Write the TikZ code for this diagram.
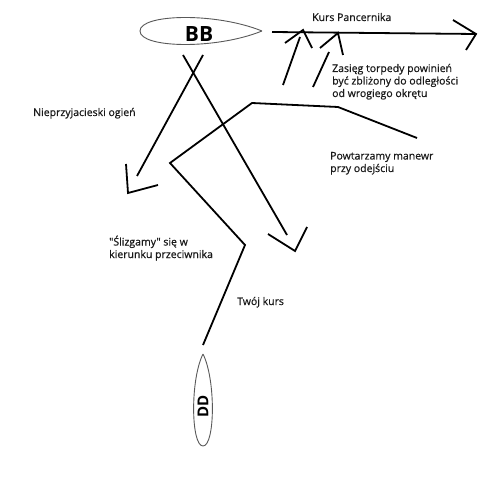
\documentclass[tikz,border=0pt]{standalone}
\usepackage{fontspec}
\setmainfont{Open Sans}
\newfontfamily\lblfont[FakeBold=0.6]{Open Sans}
\begin{document}
\begin{tikzpicture}[x=1bp,y=-1bp,
  stroke/.style={line width=1.8bp,black},
  hull/.style={line width=0.9bp,draw=black!65},
  lbl/.style={anchor=base west,inner sep=0pt,align=left,font=\lblfont\fontsize{10.5bp}{12.5bp}\selectfont,text=black!90}]
\fill[white] (0,0) rectangle (480,480);
\useasboundingbox (0,0) rectangle (480,480);
% ships
\draw[hull] (262,31) .. controls (215,12) and (140,14) .. (140,31) .. controls (140,48) and (215,50) .. (262,31);
\node[font=\fontsize{21bp}{21bp}\selectfont\bfseries,inner sep=0pt] (bb) at (199,34) {BB};
\draw[hull] (203,354) .. controls (190,380) and (191,446) .. (203,446) .. controls (215,446) and (216,380) .. (203,354);
\node[font=\fontsize{15bp}{15bp}\selectfont\bfseries,inner sep=0pt,rotate=90] (dd) at (203,406) {DD};
% coordinates
\coordinate (a1) at (203,55); \coordinate (a2) at (137,176);
\coordinate (f1) at (126,164); \coordinate (f2) at (128,193); \coordinate (f3) at (158,185);
\coordinate (b1) at (183,55); \coordinate (b2) at (287,235);
\coordinate (g1) at (268,234); \coordinate (g2) at (295,251); \coordinate (g3) at (307,227);
\coordinate (k1) at (272,32); \coordinate (k2) at (476,34);
\coordinate (h1) at (453,20); \coordinate (h2) at (466,50);
\coordinate (t1) at (283,85); \coordinate (t2) at (300,37);
\coordinate (u1) at (285,43); \coordinate (u2) at (303,30); \coordinate (u3) at (312,48);
\coordinate (t3) at (313,87); \coordinate (t4) at (329,52);
\coordinate (v1) at (320,48); \coordinate (v2) at (338,33); \coordinate (v3) at (343,55);
\coordinate (c0) at (203,345); \coordinate (c1) at (245,245); \coordinate (c2) at (170,163);
\coordinate (c3) at (252,103); \coordinate (c4) at (338,107); \coordinate (c5) at (417,138);
% strokes
\draw[stroke] (a1) -- (a2);
\draw[stroke] (f1) -- (f2) -- (f3);
\draw[stroke] (b1) -- (b2);
\draw[stroke] (g1) -- (g2) -- (g3);
\draw[stroke] (k1) -- (k2);
\draw[stroke] (h1) -- (k2) -- (h2);
\draw[stroke] (t1) -- (t2);
\draw[stroke] (u1) -- (u2) -- (u3);
\draw[stroke] (t3) -- (t4);
\draw[stroke] (v1) -- (v2) -- (v3);
\draw[stroke] (c0) -- (c1) -- (c2) -- (c3) -- (c4) -- (c5);
% labels
\node[lbl] (kp) at (312,21) {Kurs Pancernika};
\node[lbl] (zt) at (332,97) {Zasięg torpedy powinień\\być zbliżony do odległości\\od wrogiego okrętu};
\node[lbl] (no) at (33,116) {Nieprzyjacieski ogień};
\node[lbl] (pm) at (330,172) {Powtarzamy manewr\\przy odejściu};
\node[lbl] (sl) at (109,258) {"Ślizgamy" się w\\kierunku przeciwnika};
\node[lbl] (tk) at (237,305) {Twój kurs};
\end{tikzpicture}
\end{document}
